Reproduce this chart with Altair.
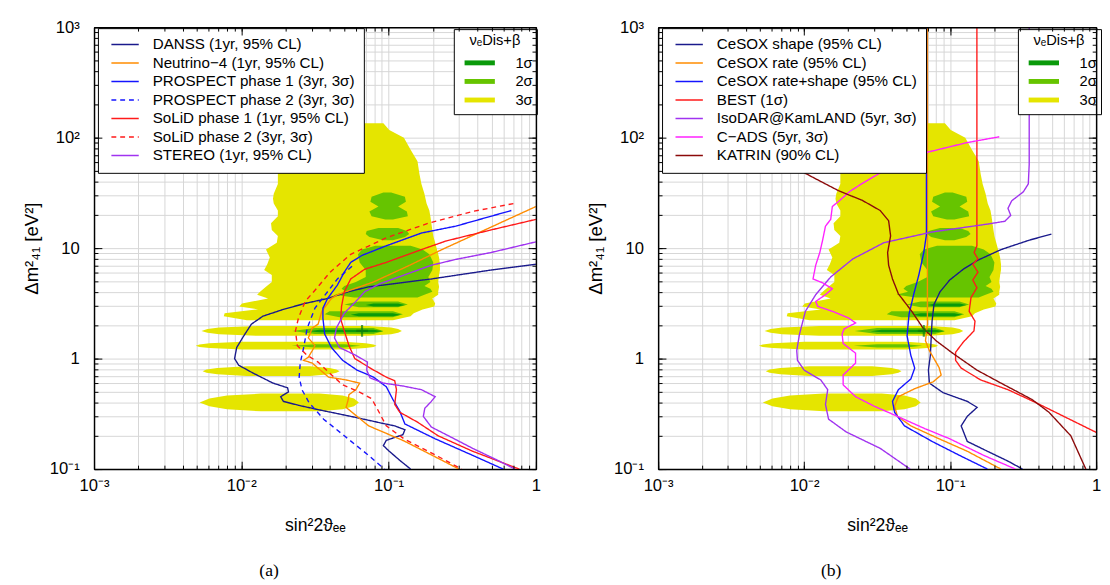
import altair as alt
import pandas as pd

W_A = 452
W_B = 448
H = 452

# ---------------- allowed regions (nu_e disappearance + beta decay) ----------------
# each island: (dm2 values, left sin^2 2theta edge, right sin^2 2theta edge)
SIG3_ISLANDS = [
    ([135, 117, 99.6, 77.9, 61.0, 46.7, 38.1, 31.1, 28.0, 25.3, 21.9, 19.4, 16.8, 14.6, 12.9, 11.2,
      9.7, 8.24, 7.14, 6.33, 5.70, 4.94, 4.46, 4.03, 3.79, 3.50, 3.16, 2.97, 2.79, 2.58, 2.42, 2.22],
     [0.0628, 0.0368, 0.0233, 0.0191, 0.0182, 0.0177, 0.0177, 0.0166, 0.0164, 0.0166, 0.0177, 0.0177,
      0.0159, 0.0161, 0.0177, 0.0174, 0.0147, 0.0156, 0.0150, 0.0143, 0.0161, 0.0161, 0.0147, 0.0134,
      0.0128, 0.0152, 0.0101, 0.0097, 0.0130, 0.0077, 0.0076, 0.0109],
     [0.0921, 0.101, 0.127, 0.141, 0.157, 0.162, 0.167, 0.175, 0.178, 0.181, 0.189, 0.192, 0.195, 0.198,
      0.201, 0.207, 0.213, 0.220, 0.223, 0.223, 0.220, 0.217, 0.220, 0.217, 0.217, 0.198, 0.207, 0.204,
      0.170, 0.148, 0.141, 0.107]),
    ([1.97, 1.91, 1.853, 1.78, 1.71, 1.66, 1.61],
     [0.01264, 0.00707, 0.00589, 0.00536, 0.00589, 0.00707, 0.01264],
     [0.0732, 0.104, 0.116, 0.123, 0.116, 0.104, 0.0732]),
    ([1.42, 1.38, 1.345, 1.31, 1.275, 1.245, 1.21],
     [0.0101, 0.00607, 0.00520, 0.0049, 0.00520, 0.00607, 0.0101],
     [0.0500, 0.0699, 0.079, 0.0827, 0.079, 0.0699, 0.0500]),
    ([0.853, 0.824, 0.797, 0.77, 0.744, 0.720, 0.696],
     [0.01085, 0.00686, 0.00580, 0.00546, 0.00580, 0.00686, 0.01085],
     [0.02925, 0.0397, 0.0442, 0.0464, 0.0442, 0.0397, 0.02925]),
    ([0.482, 0.463, 0.435, 0.401, 0.3696, 0.348, 0.333],
     [0.01364, 0.00799, 0.00607, 0.00521, 0.00607, 0.00799, 0.01364],
     [0.0340, 0.0487, 0.0582, 0.0628, 0.0582, 0.0487, 0.0340]),
]
SIG2_ISLANDS = [
    ([31.8, 29.25, 26.35, 23.8, 21.5, 19.4, 18.2], [0.0921, 0.0766, 0.0752, 0.0853, 0.0740, 0.0766, 0.0950],
     [0.104, 0.129, 0.131, 0.116, 0.133, 0.135, 0.107]),
    ([15.2, 14.3, 13.4, 12.6, 11.8], [0.0853, 0.0710, 0.0699, 0.0740, 0.0921], [0.116, 0.133, 0.138, 0.129, 0.107]),
    ([10.5, 9.7, 8.8, 7.43, 6.33, 5.48, 4.94, 4.55, 4.29, 4.03, 3.79, 3.57],
     [0.0813, 0.0660, 0.0619, 0.0636, 0.0699, 0.0699, 0.0599, 0.0500, 0.0479, 0.0514, 0.0429, 0.0582],
     [0.141, 0.170, 0.189, 0.201, 0.198, 0.186, 0.192, 0.175, 0.192, 0.198, 0.175, 0.157]),
    ([3.29, 3.09, 2.92], [0.0628, 0.0500, 0.0628], [0.116, 0.135, 0.116]),
    ([2.68, 2.52, 2.37], [0.0397, 0.0368, 0.0464], [0.107, 0.125, 0.107]),
    ([1.89, 1.78, 1.67], [0.0316, 0.0222, 0.0316], [0.079, 0.0921, 0.079]),
    ([1.35, 1.31, 1.26], [0.0316, 0.0219, 0.0316], [0.050, 0.0645, 0.050]),
]
SIG1_ISLANDS = [
    ([3.16, 3.05, 2.97], [0.079, 0.0699, 0.079], [0.116, 0.129, 0.116]),
    ([2.58, 2.50, 2.42], [0.0628, 0.0553, 0.0628], [0.107, 0.121, 0.107]),
    ([1.82, 1.77, 1.73], [0.0340, 0.0285, 0.0340], [0.079, 0.0921, 0.079]),
]
BEST_FIT_S = [0.066]
BEST_FIT_DM2 = [1.78]
SIGMA_LEVELS = ["1σ", "2σ", "3σ"]
SIGMA_COLORS = ["#0a9a0a", "#66c400", "#e5e500"]

# ---------------- panel (a): reactor experiments ----------------
A_NAMES = ["DANSS (1yr, 95% CL)", "Neutrino−4 (1yr, 95% CL)", "PROSPECT phase 1 (3yr, 3σ)",
           "PROSPECT phase 2 (3yr, 3σ)", "SoLiD phase 1 (1yr, 95% CL)", "SoLiD phase 2 (3yr, 3σ)",
           "STEREO (1yr, 95% CL)"]
A_COLORS = ["#1a1a8c", "#ff8c00", "#1414ff", "#1414ff", "#ff1a1a", "#ff1a1a", "#a033f0"]
A_DASHES = [[1, 0], [1, 0], [1, 0], [5, 4], [1, 0], [5, 4], [1, 0]]

DANSS_S = [1.0, 0.494, 0.195, 0.0732, 0.0532, 0.0385, 0.0271, 0.0193, 0.0140, 0.0117, 0.0104, 0.0093, 0.0090,
           0.0096, 0.0120, 0.0164, 0.0206, 0.0209, 0.0185, 0.0193, 0.0244, 0.0323, 0.0553, 0.0903, 0.110, 0.129,
           0.125, 0.0964, 0.0921, 0.101, 0.119, 0.141]
DANSS_DM2 = [7.14, 6.33, 5.26, 4.46, 4.03, 3.50, 3.16, 2.79, 2.42, 2.05, 1.61, 1.26, 1.00, 0.871, 0.74, 0.60, 0.544,
             0.50, 0.452, 0.41, 0.378, 0.348, 0.30, 0.26, 0.246, 0.227, 0.205, 0.182, 0.163, 0.145, 0.120, 0.10]
N4_S = [1.0, 0.230, 0.139, 0.079, 0.0449, 0.0409, 0.0352, 0.0332, 0.0303, 0.0285, 0.0316, 0.0303, 0.0285, 0.0265,
        0.0303, 0.0332, 0.0391, 0.0514, 0.0636, 0.0599, 0.0538, 0.0532, 0.0514, 0.0564, 0.0732, 0.127, 0.217, 0.30]
N4_DM2 = [23.8, 9.7, 7.0, 4.94, 3.79, 3.50, 2.68, 2.05, 1.89, 1.54, 1.31, 1.18, 1.03, 0.965, 0.91, 0.82, 0.68, 0.641,
          0.60, 0.523, 0.472, 0.426, 0.362, 0.327, 0.246, 0.18, 0.125, 0.10]
P1_S = [0.681, 0.285, 0.167, 0.0964, 0.0660, 0.0553, 0.0500, 0.0449, 0.0385, 0.0358, 0.0358, 0.0368, 0.0409, 0.0487,
        0.0610, 0.079, 0.0964, 0.107, 0.119, 0.129, 0.207, 0.372, 0.60]
P1_DM2 = [21.9, 15.8, 13.7, 10.5, 8.6, 7.43, 6.06, 4.63, 3.50, 2.86, 2.32, 1.67, 1.26, 0.965, 0.787, 0.68, 0.556,
          0.426, 0.334, 0.256, 0.188, 0.133, 0.10]
P2_S = [0.0564, 0.0449, 0.0385, 0.0316, 0.0280, 0.0265, 0.0251, 0.0247, 0.0258, 0.0288, 0.0362, 0.0500, 0.0732, 0.0936]
P2_DM2 = [6.85, 5.26, 4.03, 2.86, 1.89, 1.26, 0.91, 0.68, 0.523, 0.40, 0.283, 0.20, 0.133, 0.10]
S1_S = [1.0, 0.494, 0.245, 0.167, 0.0964, 0.0688, 0.0553, 0.0500, 0.0479, 0.0473, 0.0500, 0.0538, 0.0589, 0.0775,
        0.0964, 0.110, 0.113, 0.110, 0.119, 0.157, 0.217, 0.372, 0.77]
S1_DM2 = [18.2, 14.6, 11.6, 9.7, 7.43, 6.44, 5.26, 4.03, 2.97, 2.27, 1.78, 1.31, 1.0, 0.80, 0.68, 0.63, 0.523, 0.385,
          0.327, 0.266, 0.20, 0.145, 0.10]
S2_S = [0.703, 0.372, 0.186, 0.0964, 0.0553, 0.0401, 0.0323, 0.0271, 0.0244, 0.0233, 0.0240, 0.0280, 0.0332, 0.0397,
        0.0487, 0.0628, 0.0766, 0.0840, 0.0964, 0.127, 0.217, 0.313]
S2_DM2 = [25.3, 21.5, 16.8, 12.4, 8.8, 6.06, 4.29, 3.29, 2.32, 1.78, 1.31, 1.07, 0.93, 0.74, 0.579, 0.50, 0.435, 0.348,
          0.246, 0.188, 0.13, 0.10]
ST_S = [1.0, 0.494, 0.285, 0.195, 0.127, 0.0868, 0.0688, 0.0599, 0.0500, 0.0442, 0.0429, 0.0464, 0.0599, 0.0718,
        0.0710, 0.0747, 0.0921, 0.125, 0.167, 0.207, 0.195, 0.176, 0.172, 0.195, 0.255, 0.372, 0.55, 0.72]
ST_DM2 = [11.4, 9.12, 7.9, 7.0, 5.7, 4.75, 4.03, 3.29, 2.58, 1.89, 1.54, 1.26, 1.07, 0.93, 0.787, 0.67, 0.60, 0.565,
          0.523, 0.452, 0.41, 0.355, 0.30, 0.24, 0.20, 0.154, 0.12, 0.10]

# ---------------- panel (b): radioactive source / accelerator / KATRIN ----------------
B_NAMES = ["CeSOX shape (95% CL)", "CeSOX rate (95% CL)", "CeSOX rate+shape (95% CL)", "BEST (1σ)",
           "IsoDAR@KamLAND (5yr, 3σ)", "C−ADS (5yr, 3σ)", "KATRIN (90% CL)"]
B_COLORS = ["#1a1a8c", "#ff8c00", "#1414ff", "#ff1a1a", "#a033f0", "#ff22ff", "#8b0a0a"]
B_DASHES = [[1, 0]] * 7

CSH_S = [0.494, 0.348, 0.223, 0.154, 0.123, 0.0994, 0.0853, 0.0775, 0.0752, 0.0740, 0.0732, 0.0710, 0.0721, 0.0894,
         0.131, 0.153, 0.131, 0.119, 0.131, 0.180, 0.249, 0.313]
CSH_DM2 = [13.4, 11.8, 9.7, 7.75, 6.44, 5.15, 4.03, 3.09, 2.18, 1.45, 1.07, 0.787, 0.60, 0.492, 0.41, 0.362, 0.30,
           0.246, 0.178, 0.145, 0.118, 0.10]
CR_S = [0.0699, 0.0699, 0.0678, 0.0721, 0.0840, 0.0868, 0.0766, 0.0572, 0.0442, 0.0416, 0.0436, 0.0538, 0.0840,
        0.131, 0.223]
CR_DM2 = [1000, 2.05, 1.45, 1.18, 0.83, 0.71, 0.617, 0.534, 0.452, 0.37, 0.30, 0.246, 0.188, 0.145, 0.10]
CRS_S = [0.0688, 0.0688, 0.0660, 0.0610, 0.0564, 0.0523, 0.0507, 0.0538, 0.0572, 0.0538, 0.0442, 0.0403, 0.0416,
         0.0487, 0.0752, 0.116, 0.180]
CRS_DM2 = [1000, 13.2, 9.12, 5.7, 3.86, 2.52, 1.61, 1.07, 0.82, 0.654, 0.523, 0.41, 0.327, 0.246, 0.178, 0.133, 0.10]
BEST_S = [0.1525, 0.1525, 0.146, 0.155, 0.143, 0.155, 0.143, 0.1525, 0.139, 0.135, 0.148, 0.1456, 0.123, 0.109, 0.109,
          0.119, 0.162, 0.249, 0.386, 0.60, 1.0]
BEST_DM2 = [1000, 10.5, 9.12, 8.0, 7.14, 6.06, 5.15, 4.38, 3.57, 2.68, 2.18, 1.78, 1.41, 1.14, 0.965, 0.82, 0.641,
            0.523, 0.40, 0.30, 0.215]
ISO_S = [0.348, 0.348, 0.343, 0.317, 0.264, 0.249, 0.260, 0.237, 0.180, 0.0752, 0.0352, 0.0216, 0.0152, 0.0120,
         0.0102, 0.0093, 0.0089, 0.0090, 0.0100, 0.0130, 0.0145, 0.0140, 0.0147, 0.0194, 0.0332, 0.0532]
ISO_DM2 = [1000, 57.3, 38.1, 32.3, 26.8, 22.9, 19.8, 17.5, 16.5, 14.0, 11.2, 8.0, 5.48, 3.79, 2.68, 1.67, 1.18, 0.965,
           0.787, 0.641, 0.523, 0.385, 0.283, 0.217, 0.154, 0.10]
CADS_S = [0.217, 0.131, 0.0710, 0.0436, 0.0337, 0.0247, 0.0206, 0.0174, 0.0156, 0.0152, 0.0140, 0.0134, 0.0128,
          0.0120, 0.0115, 0.0134, 0.0156, 0.0140, 0.0120, 0.0124, 0.0156, 0.0203, 0.0225, 0.0188, 0.0182, 0.0185,
          0.0225, 0.0225, 0.0185, 0.0185, 0.0225, 0.0303, 0.0436, 0.0678, 0.0994, 0.170, 0.280]
CADS_DM2 = [101.8, 90.3, 74.2, 60.6, 48.5, 38.1, 32.7, 26.8, 23.8, 18.2, 15.8, 11.9, 9.12, 7.0, 5.26, 4.85, 4.29, 3.79,
            3.29, 2.97, 2.68, 2.32, 2.10, 1.86, 1.67, 1.37, 1.12, 0.91, 0.71, 0.579, 0.452, 0.37, 0.30, 0.231, 0.188,
            0.133, 0.10]
KAT_S = [0.00849, 0.0102, 0.0132, 0.0172, 0.0251, 0.0332, 0.0379, 0.0391, 0.0373, 0.0379, 0.0403, 0.0442, 0.0546,
         0.0652, 0.0802, 0.104, 0.1525, 0.223, 0.364, 0.475, 0.671, 0.85]
KAT_DM2 = [57.3, 47.5, 39.7, 33.1, 27.0, 21.9, 17.7, 12.9, 9.12, 7.0, 5.26, 3.86, 2.68, 1.89, 1.45, 1.12, 0.787, 0.60,
           0.426, 0.327, 0.20, 0.10]

A_CURVES = [(DANSS_S, DANSS_DM2), (N4_S, N4_DM2), (P1_S, P1_DM2), (P2_S, P2_DM2), (S1_S, S1_DM2), (S2_S, S2_DM2),
            (ST_S, ST_DM2)]
B_CURVES = [(CSH_S, CSH_DM2), (CR_S, CR_DM2), (CRS_S, CRS_DM2), (BEST_S, BEST_DM2), (ISO_S, ISO_DM2),
            (CADS_S, CADS_DM2), (KAT_S, KAT_DM2)]

# ---------------- axes ----------------
X_MAJOR = [0.001, 0.01, 0.1, 1]
Y_MAJOR = [0.1, 1, 10, 100, 1000]
X_ALL = [m * d for d in (0.001, 0.01, 0.1) for m in range(1, 10)] + [1]
Y_ALL = [m * d for d in (0.1, 1, 10, 100) for m in range(1, 10)] + [1000]

XLAB = ("datum.value < 0.0015 ? '10⁻³' : (datum.value > 0.0095 && datum.value < 0.0105) ? '10⁻²' : "
        "(datum.value > 0.095 && datum.value < 0.105) ? '10⁻¹' : datum.value > 0.95 ? '1' : ''")
YLAB = ("datum.value < 0.15 ? '10⁻¹' : (datum.value > 0.95 && datum.value < 1.05) ? '1' : "
        "(datum.value > 9.5 && datum.value < 10.5) ? '10' : (datum.value > 95 && datum.value < 105) ? '10²' : "
        "datum.value > 950 ? '10³' : ''")

FONT = "Liberation Sans"
XS = alt.Scale(type="log", domain=[0.001, 1], nice=False)
YS = alt.Scale(type="log", domain=[0.1, 1000], nice=False)


def label_axis_x():
    return alt.Axis(orient="bottom", values=X_ALL, labelExpr=XLAB, ticks=False, grid=True, gridColor="#d6d6d6",
                    gridWidth=1, domain=True, domainColor="black", domainWidth=1.5, labelFont=FONT,
                    labelFontSize=17, labelColor="black", labelPadding=9, labelFlush=False, labelOverlap=False,
                    title="sin²2ϑₑₑ", titleFont=FONT, titleFontSize=18, titleFontWeight="normal",
                    titleColor="black", titlePadding=24, zindex=0)


def label_axis_y():
    return alt.Axis(orient="left", values=Y_ALL, labelExpr=YLAB, ticks=False, grid=True, gridColor="#d6d6d6",
                    gridWidth=1, domain=True, domainColor="black", domainWidth=1.5, labelFont=FONT,
                    labelFontSize=17, labelColor="black", labelPadding=15, labelFlush=False, labelOverlap=False,
                    title="Δm²₄₁    [eV²]", titleFont=FONT, titleFontSize=19, titleFontWeight="normal",
                    titleColor="black", titlePadding=8, zindex=0)


def tick_axis(orient, values, size, offset, domain=False):
    return alt.Axis(orient=orient, values=values, offset=offset, labels=False, ticks=True, tickSize=size,
                    tickColor="black", tickWidth=1, domain=domain, domainColor="black", domainWidth=1.5,
                    grid=False, title=None, zindex=1)


def region_df():
    rows = []
    for level, islands in (("3σ", SIG3_ISLANDS), ("2σ", SIG2_ISLANDS), ("1σ", SIG1_ISLANDS)):
        for k, (dm, sl, sr) in enumerate(islands):
            for d, a, b in zip(dm, sl, sr):
                rows.append({"level": level, "island": f"{level}-{k}", "dm2": d, "sl": a, "sr": b})
    return pd.DataFrame(rows)


REG = region_df()


def area_layer(level, color, xaxis, yaxis):
    return alt.Chart(REG).transform_filter(alt.datum.level == level).mark_area(
        orient="horizontal", color=color, clip=True).encode(
        y=alt.Y("dm2:Q", scale=YS, axis=yaxis),
        x=alt.X("sl:Q", scale=XS, axis=xaxis, stack=None),
        x2="sr:Q",
        detail="island:N")


def panel(names, curves, colors, dashes, caption, width):
    rows = []
    for name, (ss, dd) in zip(names, curves):
        for i, (s, d) in enumerate(zip(ss, dd)):
            rows.append({"name": name, "i": i, "s": s, "dm2": d})
    ldf = pd.DataFrame(rows)

    leg = alt.Legend(title=None, orient="none", legendX=4, legendY=1, symbolType="M-3,0H3", symbolSize=87,
                     symbolOffset=11, labelOffset=20.5, padding=9, rowPadding=1.9, labelFont=FONT,
                     labelFontSize=15.5, labelColor="black", labelLimit=400, fillColor="white",
                     strokeColor="black", cornerRadius=0)
    sleg = alt.Legend(title="νₑDis+β", orient="none", legendX=368, legendY=2, symbolType="M-4,0H4",
                      symbolSize=60, symbolStrokeWidth=5, symbolOffset=15, labelOffset=29, padding=4,
                      rowPadding=-2, titleFont=FONT, titleFontSize=15, titleFontWeight="normal",
                      titleColor="black", titleAnchor="middle", titleAlign="center", titlePadding=8,
                      labelFont=FONT, labelFontSize=15, labelColor="black",
                      fillColor="white", strokeColor="black", cornerRadius=0)

    yellow = area_layer("3σ", SIGMA_COLORS[2], label_axis_x(), label_axis_y())
    green = area_layer("2σ", SIGMA_COLORS[1], tick_axis("top", X_ALL, 4, -H), tick_axis("right", Y_ALL, 4, -width))
    dgreen = area_layer("1σ", SIGMA_COLORS[0], tick_axis("top", X_MAJOR, 8, -H),
                        tick_axis("right", Y_MAJOR, 8, -width))

    lines = alt.Chart(ldf).mark_line(strokeWidth=1.4, clip=True).encode(
        x=alt.X("s:Q", scale=XS, axis=tick_axis("bottom", X_ALL, 4, -H, domain=True)),
        y=alt.Y("dm2:Q", scale=YS, axis=tick_axis("left", Y_ALL, 4, -width, domain=True)),
        color=alt.Color("name:N", scale=alt.Scale(domain=names, range=colors), legend=leg),
        strokeDash=alt.StrokeDash("name:N", scale=alt.Scale(domain=names, range=dashes), legend=leg),
        order="i:Q")

    bf = alt.Chart(pd.DataFrame({"s": BEST_FIT_S, "dm2": BEST_FIT_DM2})).mark_point(
        shape="M-1,0H1M0,-1V1", size=144, strokeWidth=2.2, color="#0b7a0b", filled=False).encode(
        x=alt.X("s:Q", scale=XS, axis=tick_axis("bottom", X_MAJOR, 8, -H)),
        y=alt.Y("dm2:Q", scale=YS, axis=tick_axis("left", Y_MAJOR, 8, -width)))

    sig = alt.Chart(REG).transform_filter("datum.dm2 < 0").mark_line(strokeWidth=5).encode(
        x=alt.X("sl:Q", scale=XS, axis=None),
        y=alt.Y("dm2:Q", scale=YS, axis=None),
        stroke=alt.Stroke("level:N", scale=alt.Scale(domain=SIGMA_LEVELS, range=SIGMA_COLORS), legend=sleg))

    return alt.layer(yellow, green, dgreen, lines, bf, sig).resolve_axis(
        x="independent", y="independent").properties(
        width=width, height=H,
        title=alt.TitleParams(caption, orient="bottom", anchor="middle", frame="group", dx=-47,
                              font="Liberation Serif", fontSize=18, fontWeight="normal", color="black",
                              offset=28))


pa = panel(A_NAMES, A_CURVES, A_COLORS, A_DASHES, "(a)", W_A)
pb = panel(B_NAMES, B_CURVES, B_COLORS, B_DASHES, "(b)", W_B)

chart = alt.hconcat(pa, pb, spacing=45).resolve_scale(
    x="independent", y="independent", color="independent", strokeDash="independent", stroke="independent"
).resolve_legend(color="independent", strokeDash="independent", stroke="independent").properties(
    padding={"left": 14, "top": 3, "right": 0, "bottom": 0}
).configure_view(stroke=None).configure(font=FONT)

chart.save("out.html", embed_options={"renderer": "svg", "actions": False})
